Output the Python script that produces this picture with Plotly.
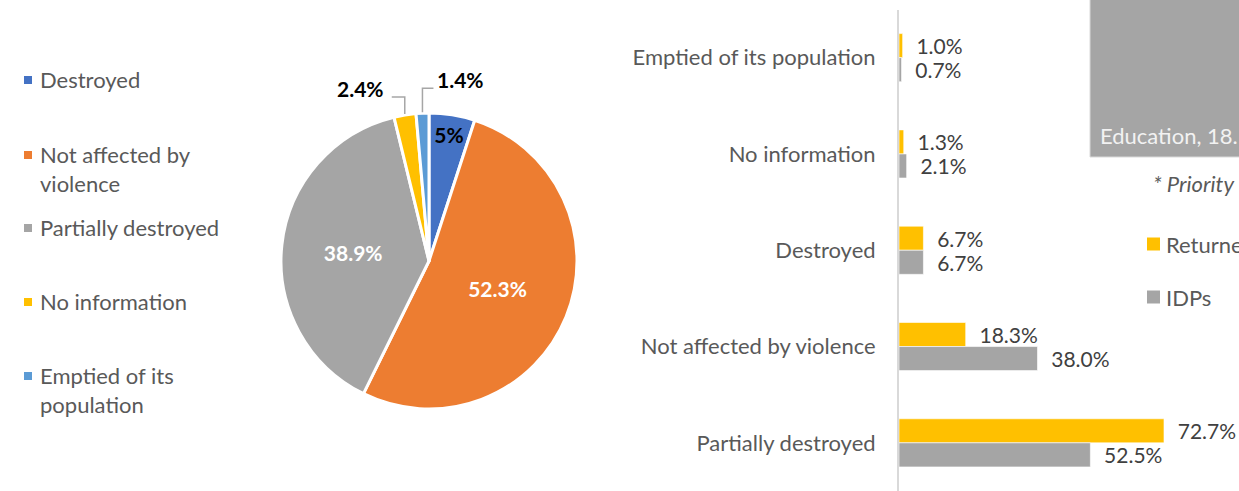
import math
import textwrap
import plotly.graph_objects as go

# ---------------- data ----------------
pie_labels = ["Destroyed", "Not affected by violence", "Partially destroyed",
              "No information", "Emptied of its population"]
pie_values = [5.0, 52.3, 38.9, 2.4, 1.4]

bar_categories = ["Emptied of its population", "No information", "Destroyed",
                  "Not affected by violence", "Partially destroyed"]
returnees = [1.0, 1.3, 6.7, 18.3, 72.7]
idps = [0.7, 2.1, 6.7, 38.0, 52.5]
series_names = ["Returnees", "IDPs"]

side_box_label = "Education, 18."
side_note = "* Priority"

# ---------------- styles ----------------
W, H = 1239, 491
FONT = "Lato"
TXT = "#595959"
FS = 22
pie_colors = ["#4472C4", "#ED7D31", "#A5A5A5", "#FFC000", "#5B9BD5"]
pie_text_colors = ["#000000", "#FFFFFF", "#FFFFFF", "#000000", "#000000"]
# slices whose label is drawn outside with a leader line: side and rise (px)
outside_style = {3: ("left", 17), 4: ("right", 24)}
bar_colors = ["#FFC000", "#A5A5A5"]


def px(x):
    return x / W


def py(y):
    return 1 - y / H


fig = go.Figure()

# ---------------- pie ----------------
cx, cy, r = 429, 261, 148
fig.add_trace(go.Pie(
    labels=pie_labels, values=pie_values, sort=False, direction="clockwise",
    rotation=0,
    marker=dict(colors=pie_colors, line=dict(color="white", width=3)),
    texttemplate="%{value}%",
    textposition=["none" if i in outside_style else "inside"
                  for i in range(len(pie_values))],
    insidetextorientation="horizontal",
    textfont=dict(family=FONT, size=21, color=pie_text_colors, weight="bold"),
    domain=dict(x=[px(cx - r), px(cx + r)], y=[py(cy + r), py(cy - r)]),
    showlegend=False, hoverinfo="label+value",
))

shapes, annotations = [], []

# outside labels with elbow leader lines, computed from the slice angles
total = sum(pie_values)
cum = 0.0
for i, v in enumerate(pie_values):
    mid = (cum + v / 2) / total * 2 * math.pi
    cum += v
    if i not in outside_style:
        continue
    side, rise = outside_style[i]
    ax = cx + (r + 1) * math.sin(mid)
    ay = cy - (r + 1) * math.cos(mid)
    ey = ay - rise
    ex = ax - 13 if side == "left" else ax + 11
    shapes.append(dict(type="path", xref="paper", yref="paper",
                       path=f"M {px(ax)},{py(ay)} L {px(ax)},{py(ey)} L {px(ex)},{py(ey)}",
                       line=dict(color="#A6A6A6", width=1.5)))
    annotations.append(dict(
        text=f"{v:g}%", xref="paper", yref="paper",
        x=px(ex - 6) if side == "left" else px(ex + 2), y=py(ey + 6),
        xanchor="right" if side == "left" else "left", yanchor="bottom",
        showarrow=False,
        font=dict(family=FONT, size=21, color="#000000", weight="bold")))

# ---------------- bars ----------------
for name, vals, col in zip(series_names, [returnees, idps], bar_colors):
    fig.add_trace(go.Bar(
        y=bar_categories, x=vals, orientation="h", name=name,
        marker=dict(color=col, line=dict(color="rgba(255,255,255,0.6)", width=1)),
        texttemplate="\u00a0\u00a0%{x:.1f}%", textposition="outside",
        cliponaxis=False, constraintext="none", showlegend=False,
        textfont=dict(family=FONT, size=21, color="#404040"),
    ))

x_left = 899
px_per_unit = 3.645
fig.update_layout(
    width=W, height=H, margin=dict(l=0, r=0, t=0, b=0, autoexpand=False),
    paper_bgcolor="white", plot_bgcolor="white",
    font=dict(family=FONT, color=TXT),
    barmode="group", bargap=0.5, bargroupgap=0,
    xaxis=dict(domain=[px(x_left), 1], range=[0, (W - x_left) / px_per_unit],
               visible=False),
    yaxis=dict(domain=[0, py(9.5)], autorange="reversed", showline=True,
               linecolor="#D9D9D9", linewidth=2, showgrid=False,
               ticks="", ticklabelstandoff=17, automargin=False,
               tickfont=dict(family=FONT, size=FS, color=TXT)),
    showlegend=False,
)

# ---------------- manual pie legend ----------------
legend_rows_y = [80, 155, 228, 302, 376]
for lab, col, yy in zip(pie_labels, pie_colors, legend_rows_y):
    shapes.append(dict(type="rect", xref="paper", yref="paper",
                       x0=px(24), x1=px(32), y0=py(yy + 4), y1=py(yy - 4),
                       fillcolor=col, line=dict(width=0)))
    annotations.append(dict(text="<br>".join(textwrap.wrap(lab, 19)),
                            xref="paper", yref="paper", x=px(38), y=py(yy - 16),
                            xanchor="left", yanchor="top", align="left",
                            showarrow=False,
                            font=dict(family=FONT, size=FS, color=TXT)))

# ---------------- manual bar legend (cut by the right edge, as in the source) ----------------
bar_legend_y = [244, 297]
for name, col, yy in zip(series_names, bar_colors, bar_legend_y):
    shapes.append(dict(type="rect", xref="paper", yref="paper",
                       x0=px(1147), x1=px(1160), y0=py(yy + 6.5), y1=py(yy - 6.5),
                       fillcolor=col, line=dict(width=0)))
    annotations.append(dict(text=name, xref="paper", yref="paper",
                            x=px(1164), y=py(yy), xanchor="left", yanchor="middle",
                            showarrow=False,
                            font=dict(family=FONT, size=FS, color=TXT)))

# ---------------- side box (partially visible neighbouring chart) ----------------
shapes.append(dict(type="rect", xref="paper", yref="paper",
                   x0=px(1090), x1=1.01, y0=py(157), y1=1.01,
                   fillcolor="#A5A5A5", line=dict(color="#D9D9D9", width=1)))
annotations.append(dict(text=side_box_label, xref="paper", yref="paper",
                        x=px(1098), y=py(136), xanchor="left", yanchor="middle",
                        showarrow=False,
                        font=dict(family=FONT, size=FS, color="#F2F2F2")))
annotations.append(dict(text=side_note, xref="paper", yref="paper",
                        x=px(1151), y=py(183), xanchor="left", yanchor="middle",
                        showarrow=False,
                        font=dict(family=FONT, size=FS, color=TXT, style="italic")))

fig.update_layout(shapes=shapes, annotations=annotations)

post = ("document.body.style.margin='0';document.body.style.padding='0';"
        "document.body.style.overflow='hidden';"
        "document.documentElement.style.overflow='hidden';"
        "var gd=document.getElementById('{plot_id}');"
        "Plotly.relayout(gd,{width:1239,height:491});")
fig.write_html("out.html", config={"responsive": False, "displayModeBar": False},
               post_script=post)
